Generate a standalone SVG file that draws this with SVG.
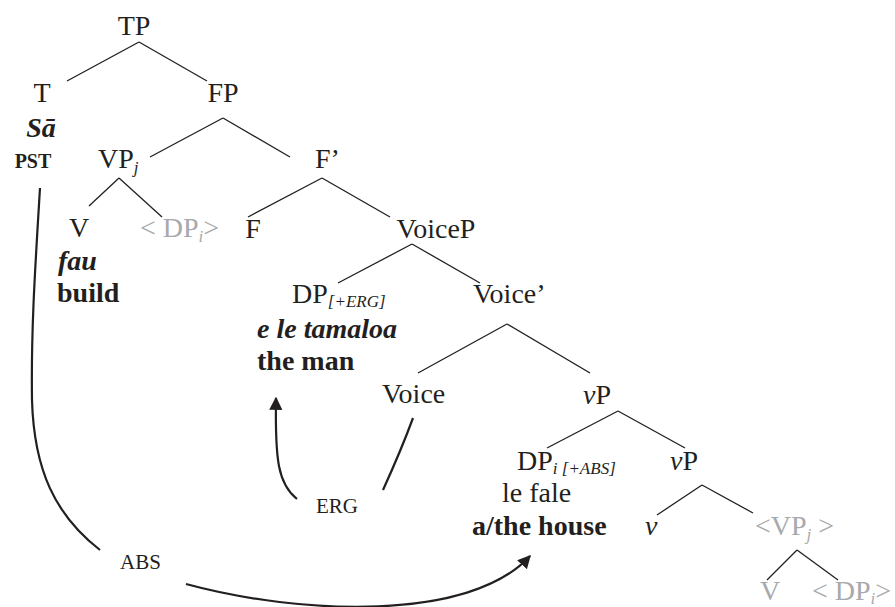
<svg xmlns="http://www.w3.org/2000/svg" width="895" height="607" viewBox="0 0 895 607">
<style>
text{font-family:'Liberation Serif','Times New Roman',serif;font-size:28px;fill:#231f20}
.g{fill:#a7a9ac}
.b{font-weight:bold}
.i{font-style:italic}
.bi{font-weight:bold;font-style:italic}
.s{font-size:17px;font-style:italic}
.sm{font-size:21px}
.m{text-anchor:middle}
line,path{stroke:#231f20;stroke-width:1.3;fill:none}
.c{stroke-width:2.2}
</style>
<defs>
<marker id="ah" viewBox="0 0 10 10" refX="9" refY="5" markerWidth="6" markerHeight="6" orient="auto" markerUnits="strokeWidth">
<path d="M0,0 L10,5 L0,10 Z" style="fill:#231f20;stroke:none"/>
</marker>
</defs>
<g id="connectors">
<line x1="139" y1="42" x2="67" y2="81"/>
<line x1="139" y1="42" x2="207" y2="81"/>
<line x1="223" y1="118" x2="150" y2="157"/>
<line x1="223" y1="118" x2="290" y2="157"/>
<line x1="119" y1="178" x2="89" y2="206"/>
<line x1="119" y1="178" x2="162" y2="217"/>
<line x1="322" y1="178" x2="248" y2="217"/>
<line x1="322" y1="178" x2="390" y2="217"/>
<line x1="412" y1="244" x2="338" y2="283"/>
<line x1="412" y1="244" x2="480" y2="283"/>
<line x1="507" y1="324" x2="418" y2="373"/>
<line x1="507" y1="324" x2="590" y2="373"/>
<line x1="618" y1="411" x2="547" y2="448"/>
<line x1="618" y1="411" x2="685" y2="448"/>
<line x1="702" y1="485" x2="657" y2="515"/>
<line x1="702" y1="485" x2="753" y2="513"/>
<line x1="797" y1="550" x2="767" y2="580"/>
<line x1="797" y1="550" x2="838" y2="580"/>
<path class="c" d="M40,188 C35,270 31,330 32,400 C34,470 55,515 100,550"/>
<path class="c" d="M186,584 C300,615 470,622 530,556" marker-end="url(#ah)"/>
<path class="c" d="M297,499 C278,484 275,460 276,398" marker-end="url(#ah)"/>
<path class="c" d="M413,418 C402,448 393,468 383,490"/>
</g>
<g id="TP"><text class="m" x="134" y="35">TP</text></g>
<g id="T"><text class="m" x="42" y="102">T</text>
<text class="bi m" x="41" y="137">Sā</text>
<text class="b m" x="33" y="168" style="font-size:20px">PST</text></g>
<g id="FP"><text class="m" x="223" y="102">FP</text></g>
<g id="VPj"><text x="98" y="168">VP<tspan class="s" dy="5">j</tspan></text></g>
<g id="Fbar"><text x="315" y="168">F’</text></g>
<g id="V1"><text class="m" x="79" y="237">V</text>
<text class="bi" x="58" y="270">fau</text>
<text class="b" x="57" y="302">build</text></g>
<g id="DPi1"><text class="g" x="140" y="237">&lt; DP<tspan class="s" dy="5">i</tspan><tspan dy="-5">&gt;</tspan></text></g>
<g id="F"><text class="m" x="253" y="238">F</text></g>
<g id="VoiceP"><text class="m" x="436" y="238">VoiceP</text></g>
<g id="DPerg"><text x="292" y="303">DP<tspan class="s" dy="4">[+ERG]</tspan></text>
<text class="bi" x="257" y="338">e le tamaloa</text>
<text class="b" x="257" y="370">the man</text></g>
<g id="Voicebar"><text x="473" y="303">Voice’</text></g>
<g id="Voice"><text x="382" y="403">Voice</text></g>
<g id="vP1"><text x="583" y="404"><tspan class="i">v</tspan>P</text></g>
<g id="DPabs"><text x="517" y="470">DP<tspan class="s" dy="4">i [+ABS]</tspan></text>
<text x="502" y="502">le fale</text>
<text class="b" x="472" y="535">a/the house</text></g>
<g id="vP2"><text x="670" y="470"><tspan class="i">v</tspan>P</text></g>
<g id="v"><text class="i" x="645" y="535">v</text></g>
<g id="VPj2"><text class="g" x="755" y="535">&lt;VP<tspan class="s" dy="5">j</tspan><tspan dy="-5"> &gt;</tspan></text></g>
<g id="V2"><text class="g" x="760" y="600">V</text></g>
<g id="DPi2"><text class="g" x="812" y="600">&lt; DP<tspan class="s" dy="4">i</tspan><tspan dy="-4">&gt;</tspan></text></g>
<g id="ERG"><text class="sm" x="316" y="513">ERG</text></g>
<g id="ABS"><text class="sm" x="120" y="569">ABS</text></g>
</svg>
